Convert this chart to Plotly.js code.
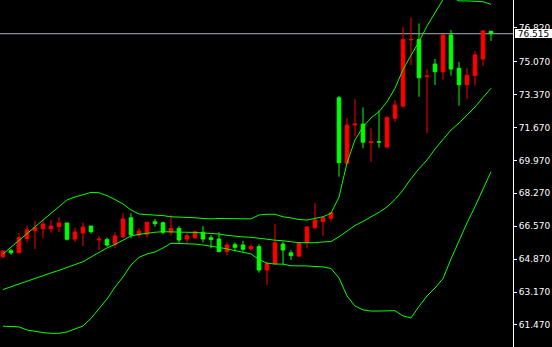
<!DOCTYPE html>
<html>
<head>
<meta charset="utf-8">
<script src="https://cdn.plot.ly/plotly-3.0.1.min.js"></script>
<style>
  html, body { margin: 0; padding: 0; background: #000; }
  #chart { width: 552px; height: 347px; }
</style>
</head>
<body>
<div id="chart"></div>
<script>
// Candle data (red = rising, green = falling in this colour scheme)
const open  = [65.00,65.30,65.20,65.93,66.34,66.44,66.44,66.55,66.74,65.91,
               66.22,66.58,65.87,65.88,65.64,66.03,67.01,66.12,66.16,66.80,
               66.75,66.26,66.46,65.91,65.98,66.26,65.98,65.91,65.26,65.62,
               65.60,65.41,65.52,64.31,64.62,65.65,65.20,65.03,65.74,66.50,
               66.81,66.98,73.21,69.82,71.80,71.85,70.90,70.94,70.66,72.15,
               72.78,76.20,76.21,74.30,74.95,74.55,76.45,74.73,73.88,74.35,
               75.21,76.64];
const high  = [65.30,65.40,66.24,66.60,66.86,66.89,66.89,67.03,66.75,66.50,
               66.76,66.59,66.07,65.98,66.26,67.24,67.24,66.46,66.79,66.95,
               66.81,67.15,66.58,66.22,66.30,66.58,66.12,66.26,65.74,65.74,
               65.81,65.64,65.64,64.74,66.69,65.77,65.34,65.74,66.58,67.77,
               67.10,67.32,73.30,72.15,73.14,72.71,71.63,72.56,72.27,73.09,
               76.86,77.36,77.05,74.69,75.21,76.50,76.71,75.05,74.74,75.61,
               76.71,76.65];
const low   = [64.91,65.10,65.18,65.74,65.40,65.95,66.24,66.26,65.83,65.76,
               65.55,66.19,65.34,65.51,65.45,65.95,65.95,66.00,66.00,66.55,
               66.16,66.08,65.65,65.70,65.91,65.74,65.43,65.22,65.07,65.26,
               65.26,65.31,64.17,63.54,64.60,64.62,64.83,64.98,65.46,66.41,
               66.08,66.81,69.13,69.80,71.20,70.60,69.91,70.63,70.63,71.97,
               72.69,74.90,73.26,71.37,73.87,74.14,74.35,72.80,73.14,73.83,
               74.86,76.14];
const close = [65.29,65.20,65.98,66.38,66.50,66.69,66.58,66.74,65.90,66.27,
               66.53,66.29,65.90,65.60,66.07,66.95,66.12,66.31,66.78,66.70,
               66.26,66.46,65.86,66.08,66.29,65.91,65.88,65.26,65.60,65.48,
               65.38,65.52,64.31,64.64,65.72,65.34,65.05,65.70,66.53,66.89,
               67.01,67.27,69.85,71.79,71.85,70.91,70.93,70.92,72.18,72.83,
               76.21,76.22,74.24,74.33,74.55,76.45,74.69,73.88,74.37,75.42,
               76.66,76.515];

// Bollinger bands
const bbUpper  = [65.14,65.48,65.83,66.19,66.54,66.89,67.24,67.59,67.93,68.08,
                  68.21,68.32,68.30,68.15,67.95,67.72,67.41,67.20,67.17,67.15,
                  67.12,67.06,67.05,67.03,67.01,66.97,66.95,66.97,66.97,66.96,
                  66.95,66.95,67.15,67.19,67.19,67.06,67.00,66.92,66.89,66.96,
                  67.06,67.24,68.08,69.84,71.03,71.71,72.16,72.49,73.00,73.70,
                  74.66,75.40,76.10,76.91,77.57,78.28,78.40,78.21,78.21,78.20,
                  78.17,78.03];
const bbMiddle = [63.30,63.45,63.60,63.74,63.90,64.02,64.16,64.29,64.43,64.59,
                  64.74,64.98,65.23,65.45,65.63,65.85,66.07,66.15,66.22,66.26,
                  66.29,66.29,66.27,66.26,66.25,66.22,66.21,66.17,66.10,66.05,
                  66.02,66.00,65.94,65.89,65.85,65.82,65.78,65.72,65.72,65.72,
                  65.76,65.78,66.03,66.33,66.61,66.82,67.05,67.29,67.57,67.95,
                  68.44,69.03,69.54,69.99,70.56,71.05,71.54,71.90,72.29,72.73,
                  73.22,73.70];
const bbLower  = [61.41,61.39,61.37,61.21,61.13,61.08,61.04,61.04,61.11,61.26,
                  61.42,61.81,62.32,62.81,63.43,63.95,64.57,64.96,65.14,65.24,
                  65.45,65.69,65.68,65.67,65.65,65.60,65.55,65.48,65.40,65.32,
                  65.21,65.14,64.85,64.66,64.62,64.61,64.53,64.53,64.52,64.49,
                  64.47,64.39,63.90,62.97,62.45,62.25,62.19,62.19,62.19,62.21,
                  61.94,61.83,62.43,62.97,63.38,63.87,64.88,65.86,66.74,67.58,
                  68.49,69.39];

// Price scale labels
const tickVals = [61.47,63.17,64.87,66.57,68.27,69.97,71.67,73.37,75.07,76.82];
const tickText = ["61.470","63.170","64.870","66.570","68.270","69.970","71.670","73.370","75.070","76.820"];
const lastPrice = 76.515;
const lastPriceText = "76.515";

const bars = open.map((_, i) => i);

const upColor = '#ff0000';
const downColor = '#00ff00';
const bandColor = '#00ff00';
const labelFont = "Tahoma, 'DejaVu Sans', sans-serif";

const traces = [
  {
    type: 'candlestick',
    x: bars, open: open, high: high, low: low, close: close,
    increasing: { line: { color: upColor, width: 1 }, fillcolor: upColor },
    decreasing: { line: { color: downColor, width: 1 }, fillcolor: downColor },
    whiskerwidth: 0,
    hoverinfo: 'skip'
  },
  { type: 'scatter', mode: 'lines', x: bars, y: bbUpper,  line: { color: bandColor, width: 1 }, hoverinfo: 'skip' },
  { type: 'scatter', mode: 'lines', x: bars, y: bbMiddle, line: { color: bandColor, width: 1 }, hoverinfo: 'skip' },
  { type: 'scatter', mode: 'lines', x: bars, y: bbLower,  line: { color: bandColor, width: 1 }, hoverinfo: 'skip' }
];

const layout = {
  width: 552, height: 347,
  margin: { l: 0, r: 39, t: 0, b: 0, pad: 0 },
  paper_bgcolor: '#000000', plot_bgcolor: '#000000',
  showlegend: false,
  boxgap: 0.36,
  xaxis: {
    range: [-0.375, 63.75], visible: false, showgrid: false, zeroline: false,
    rangeslider: { visible: false }, fixedrange: true
  },
  yaxis: {
    side: 'right', range: [60.333, 78.257],
    tickmode: 'array', tickvals: tickVals, ticktext: tickText,
    showgrid: false, zeroline: false,
    showline: true, linecolor: '#ffffff', linewidth: 1,
    ticks: 'outside', ticklen: 3, tickcolor: '#ffffff', tickwidth: 1,
    tickfont: { family: labelFont, size: 9, color: '#ffffff' },
    fixedrange: true
  },
  shapes: [
    { type: 'line', xref: 'paper', yref: 'y', x0: 0, x1: 1, y0: lastPrice, y1: lastPrice,
      line: { color: '#a8b0b8', width: 1 }, layer: 'below' }
  ],
  annotations: [
    { xref: 'paper', yref: 'y', x: 1, y: lastPrice, xanchor: 'left', yanchor: 'middle',
      xshift: 2, text: lastPriceText, showarrow: false, borderpad: 0,
      width: 37, height: 9, align: 'center', valign: 'middle',
      bgcolor: '#ffffff', borderwidth: 0,
      font: { family: labelFont, size: 9, color: '#000000' } }
  ]
};

Plotly.newPlot('chart', traces, layout, { staticPlot: true, displayModeBar: false });
</script>
</body>
</html>
